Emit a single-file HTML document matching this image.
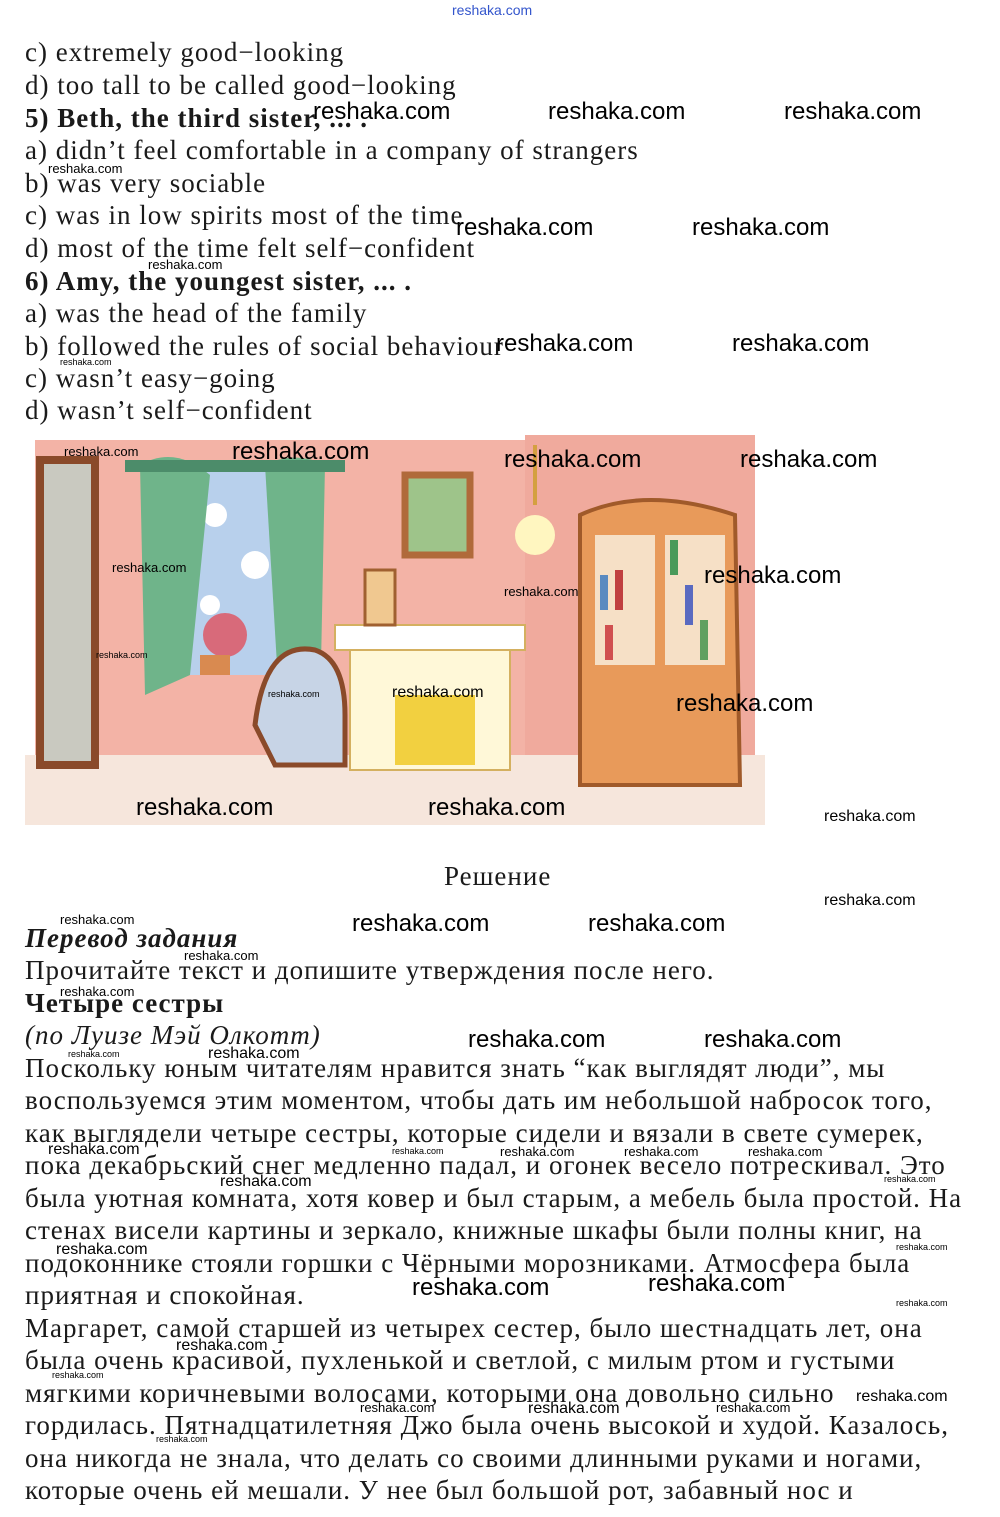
<!DOCTYPE html>
<html><head><meta charset="utf-8">
<style>
body{margin:0;width:1000px;height:1517px;background:#fff;position:relative;overflow:hidden;font-family:"Liberation Serif",serif;color:#1a1a1a}
.l{position:absolute;left:25px;font-size:27px;line-height:32px;white-space:nowrap;letter-spacing:1.0px}
.b{font-weight:bold}
.i{font-style:italic}
.w{position:absolute;font-family:"Liberation Sans",sans-serif;font-size:24px;color:#000;white-space:nowrap;line-height:24px}
.s{position:absolute;font-family:"Liberation Sans",sans-serif;font-size:13px;color:#000;white-space:nowrap}
.xs{position:absolute;font-family:"Liberation Sans",sans-serif;font-size:9px;color:#000;white-space:nowrap}
</style></head><body>
<div style="position:absolute;left:452px;top:2px;font-family:'Liberation Sans',sans-serif;font-size:14px;color:#3355cc">reshaka.com</div>

<div class="l" style="top:36px">c) extremely good−looking</div>
<div class="l" style="top:69px">d) too tall to be called good−looking</div>
<div class="l b" style="top:102px">5) Beth, the third sister, ... .</div>
<div class="l" style="top:134px">a) didn’t feel comfortable in a company of strangers</div>
<div class="l" style="top:167px">b) was very sociable</div>
<div class="l" style="top:199px">c) was in low spirits most of the time</div>
<div class="l" style="top:232px">d) most of the time felt self−confident</div>
<div class="l b" style="top:265px">6) Amy, the youngest sister, ... .</div>
<div class="l" style="top:297px">a) was the head of the family</div>
<div class="l" style="top:330px">b) followed the rules of social behaviour</div>
<div class="l" style="top:362px">c) wasn’t easy−going</div>
<div class="l" style="top:394px">d) wasn’t self−confident</div>

<svg style="position:absolute;left:25px;top:425px" width="750" height="405" viewBox="0 0 750 405">
<rect x="0" y="0" width="750" height="405" fill="#fff"/>
<rect x="10" y="15" width="490" height="330" fill="#f0a090" opacity="0.8"/>
<rect x="500" y="10" width="230" height="340" fill="#ec9585" opacity="0.8"/>
<rect x="0" y="330" width="740" height="70" fill="#f6e6dc"/>
<rect x="15" y="35" width="55" height="305" fill="#c9c9c0" stroke="#8a4a2a" stroke-width="8"/>
<rect x="160" y="40" width="100" height="210" fill="#b8d0ec"/>
<circle cx="190" cy="90" r="12" fill="#fff"/><circle cx="230" cy="140" r="14" fill="#fff"/><circle cx="185" cy="180" r="10" fill="#fff"/>
<path d="M115 40 Q150 20 185 50 L165 250 L120 270 Z" fill="#6fb48a"/>
<path d="M240 40 Q270 25 300 40 L295 290 L255 290 Z" fill="#6fb48a"/>
<rect x="100" y="35" width="220" height="12" fill="#4c8c6a"/>
<circle cx="200" cy="210" r="22" fill="#d86a7a"/><rect x="175" y="230" width="30" height="20" fill="#d98a50"/>
<path d="M230 300 Q240 215 290 225 Q320 235 320 290 L320 340 L250 340 Z" fill="#c7d4e6" stroke="#8a4a2a" stroke-width="5"/>
<rect x="380" y="50" width="65" height="80" fill="#9ec48a" stroke="#b06a3a" stroke-width="7"/>
<rect x="310" y="200" width="190" height="25" fill="#fff" stroke="#d4b060" stroke-width="2"/>
<rect x="325" y="225" width="160" height="120" fill="#fff8d8" stroke="#d4b060" stroke-width="2"/>
<rect x="370" y="270" width="80" height="70" fill="#f2d040"/>
<rect x="340" y="145" width="30" height="55" fill="#f0c890" stroke="#a06030" stroke-width="3"/>
<rect x="508" y="20" width="4" height="60" fill="#d4a040"/>
<circle cx="510" cy="110" r="20" fill="#fff6c0"/>
<path d="M555 90 Q620 60 710 90 L715 360 L555 360 Z" fill="#e89a5a" stroke="#a05a2a" stroke-width="4"/>
<rect x="570" y="110" width="60" height="130" fill="#f6e0c6"/>
<rect x="640" y="110" width="60" height="130" fill="#f6e0c6"/>
<rect x="575" y="150" width="8" height="35" fill="#5a8ac0"/><rect x="590" y="145" width="8" height="40" fill="#c04040"/><rect x="645" y="115" width="8" height="35" fill="#4a9a5a"/><rect x="660" y="160" width="8" height="40" fill="#5a6ac0"/><rect x="580" y="200" width="8" height="35" fill="#d05050"/><rect x="675" y="195" width="8" height="40" fill="#60a060"/>
</svg>

<div class="w" style="left:313px;top:100px">reshaka.com</div>
<div class="w" style="left:548px;top:100px">reshaka.com</div>
<div class="w" style="left:784px;top:100px">reshaka.com</div>
<div class="s" style="left:48px;top:161px">reshaka.com</div>
<div class="w" style="left:456px;top:216px">reshaka.com</div>
<div class="w" style="left:692px;top:216px">reshaka.com</div>
<div class="s" style="left:148px;top:257px">reshaka.com</div>
<div class="w" style="left:496px;top:332px">reshaka.com</div>
<div class="w" style="left:732px;top:332px">reshaka.com</div>
<div class="xs" style="left:60px;top:357px">reshaka.com</div>
<div class="s" style="left:64px;top:444px">reshaka.com</div>
<div class="w" style="left:232px;top:440px">reshaka.com</div>
<div class="w" style="left:504px;top:448px">reshaka.com</div>
<div class="w" style="left:740px;top:448px">reshaka.com</div>
<div class="s" style="left:112px;top:560px">reshaka.com</div>
<div class="s" style="left:504px;top:584px">reshaka.com</div>
<div class="w" style="left:704px;top:564px">reshaka.com</div>
<div class="xs" style="left:96px;top:650px">reshaka.com</div>
<div class="xs" style="left:268px;top:689px">reshaka.com</div>
<div class="s" style="left:392px;top:684px;font-size:16px">reshaka.com</div>
<div class="w" style="left:676px;top:692px">reshaka.com</div>
<div class="w" style="left:136px;top:796px">reshaka.com</div>
<div class="w" style="left:428px;top:796px">reshaka.com</div>
<div class="s" style="left:824px;top:808px;font-size:16px">reshaka.com</div>

<div class="l" style="left:444px;top:860px">Решение</div>
<div class="s" style="left:824px;top:892px;font-size:16px">reshaka.com</div>
<div class="s" style="left:60px;top:912px">reshaka.com</div>
<div class="w" style="left:352px;top:912px">reshaka.com</div>
<div class="w" style="left:588px;top:912px">reshaka.com</div>

<div class="l b i" style="top:922px">Перевод задания</div>
<div class="l" style="top:954px">Прочитайте текст и допишите утверждения после него.</div>
<div class="l b" style="top:987px">Четыре сестры</div>
<div class="l i" style="top:1019px">(по Луизе Мэй Олкотт)</div>
<div class="l" style="top:1052px">Поскольку юным читателям нравится знать “как выглядят люди”, мы</div>
<div class="l" style="top:1084px">воспользуемся этим моментом, чтобы дать им небольшой набросок того,</div>
<div class="l" style="top:1117px">как выглядели четыре сестры, которые сидели и вязали в свете сумерек,</div>
<div class="l" style="top:1149px">пока декабрьский снег медленно падал, и огонек весело потрескивал. Это</div>
<div class="l" style="top:1182px">была уютная комната, хотя ковер и был старым, а мебель была простой. На</div>
<div class="l" style="top:1214px">стенах висели картины и зеркало, книжные шкафы были полны книг, на</div>
<div class="l" style="top:1247px">подоконнике стояли горшки с Чёрными морозниками. Атмосфера была</div>
<div class="l" style="top:1279px">приятная и спокойная.</div>
<div class="l" style="top:1312px">Маргарет, самой старшей из четырех сестер, было шестнадцать лет, она</div>
<div class="l" style="top:1344px">была очень красивой, пухленькой и светлой, с милым ртом и густыми</div>
<div class="l" style="top:1377px">мягкими коричневыми волосами, которыми она довольно сильно</div>
<div class="l" style="top:1409px">гордилась. Пятнадцатилетняя Джо была очень высокой и худой. Казалось,</div>
<div class="l" style="top:1442px">она никогда не знала, что делать со своими длинными руками и ногами,</div>
<div class="l" style="top:1474px">которые очень ей мешали. У нее был большой рот, забавный нос и</div>

<div class="s" style="left:60px;top:984px">reshaka.com</div>
<div class="s" style="left:184px;top:948px">reshaka.com</div>
<div class="w" style="left:468px;top:1028px">reshaka.com</div>
<div class="w" style="left:704px;top:1028px">reshaka.com</div>
<div class="xs" style="left:68px;top:1049px">reshaka.com</div>
<div class="s" style="left:208px;top:1045px;font-size:16px">reshaka.com</div>
<div class="s" style="left:48px;top:1141px;font-size:16px">reshaka.com</div>
<div class="xs" style="left:392px;top:1146px">reshaka.com</div>
<div class="s" style="left:500px;top:1144px">reshaka.com</div>
<div class="s" style="left:624px;top:1144px">reshaka.com</div>
<div class="s" style="left:748px;top:1144px">reshaka.com</div>
<div class="xs" style="left:884px;top:1174px">reshaka.com</div>
<div class="s" style="left:220px;top:1173px;font-size:16px">reshaka.com</div>
<div class="xs" style="left:896px;top:1242px">reshaka.com</div>
<div class="s" style="left:56px;top:1241px;font-size:16px">reshaka.com</div>
<div class="w" style="left:412px;top:1276px">reshaka.com</div>
<div class="w" style="left:648px;top:1272px">reshaka.com</div>
<div class="xs" style="left:896px;top:1298px">reshaka.com</div>
<div class="s" style="left:176px;top:1337px;font-size:16px">reshaka.com</div>
<div class="xs" style="left:52px;top:1370px">reshaka.com</div>
<div class="s" style="left:856px;top:1388px;font-size:16px">reshaka.com</div>
<div class="s" style="left:360px;top:1400px">reshaka.com</div>
<div class="s" style="left:528px;top:1400px;font-size:16px">reshaka.com</div>
<div class="s" style="left:716px;top:1400px">reshaka.com</div>
<div class="xs" style="left:156px;top:1434px">reshaka.com</div>
</body></html>
